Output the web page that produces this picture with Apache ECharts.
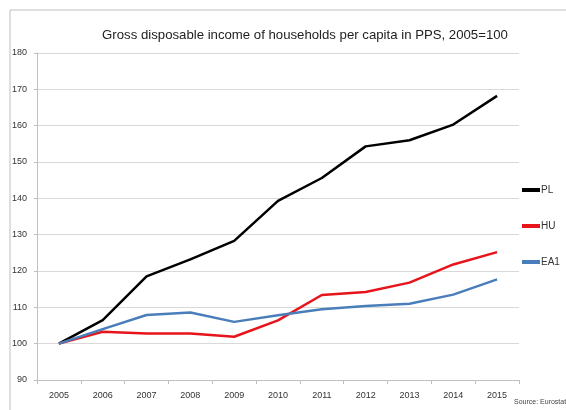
<!DOCTYPE html>
<html>
<head>
<meta charset="utf-8">
<script src="https://cdn.jsdelivr.net/npm/echarts@6/dist/echarts.min.js"></script>
<style>
html, body { margin: 0; padding: 0; background: #fff; }
#chart { width: 566px; height: 410px; }
</style>
</head>
<body>
<div id="chart"></div>
<script>
// data
const years = ['2005', '2006', '2007', '2008', '2009', '2010', '2011', '2012', '2013', '2014', '2015'];
const seriesNames = ['PL', 'HU', 'EA1'];
const plValues = [100, 106.5, 118.5, 123.2, 128.3, 139.3, 145.6, 154.3, 156.0, 160.3, 168.2];
const huValues = [100, 103.3, 102.8, 102.8, 101.9, 106.4, 113.4, 114.2, 116.8, 121.8, 125.2];
const eaValues = [100, 104.0, 107.9, 108.6, 106.0, 107.8, 109.5, 110.4, 111.0, 113.5, 117.7];

const font = 'Liberation Sans';

const chart = echarts.init(document.getElementById('chart'));

const option = {
    backgroundColor: '#fff',
    animation: false,
    title: {
        text: 'Gross disposable income of households per capita in PPS, 2005=100',
        left: 300,
        textAlign: 'center',
        top: 24,
        textStyle: { fontFamily: font, fontSize: 13.2, fontWeight: 'normal', color: '#222' }
    },
    graphic: [
        {
            type: 'polyline',
            shape: { points: [[10, 410], [10, 10], [566, 10]] },
            style: { stroke: '#bfbfbf', lineWidth: 1, fill: null }
        },
        {
            type: 'text',
            left: 514,
            top: 399,
            style: { text: 'Source: Eurostat', fontFamily: font, fontSize: 7, fill: '#444' }
        }
    ],
    legend: {
        orient: 'vertical',
        left: 517,
        top: 180,
        itemGap: 26,
        itemWidth: 18,
        itemHeight: 4,
        icon: 'rect',
        textStyle: { fontFamily: font, fontSize: 10, color: '#333', padding: [0, 0, 0, -4] },
        data: seriesNames
    },
    grid: { left: 37, right: 47, top: 53, bottom: 30 },
    xAxis: {
        type: 'category',
        data: years,
        boundaryGap: true,
        axisLine: { lineStyle: { color: '#bfbfbf' } },
        axisTick: { show: true, length: 4, lineStyle: { color: '#bfbfbf' } },
        axisLabel: { fontFamily: font, fontSize: 9, color: '#333', margin: 11 }
    },
    yAxis: {
        type: 'value',
        min: 90,
        max: 180,
        interval: 10,
        axisLine: { show: true, lineStyle: { color: '#bfbfbf' } },
        axisTick: { show: true, length: 3, lineStyle: { color: '#bfbfbf' } },
        axisLabel: { fontFamily: font, fontSize: 9, color: '#333', margin: 10 },
        splitLine: { lineStyle: { color: '#d9d9d9', width: 1 } }
    },
    series: [
        {
            name: seriesNames[0],
            type: 'line',
            data: plValues,
            symbol: 'none',
            lineStyle: { color: '#000', width: 2.5 },
            itemStyle: { color: '#000' }
        },
        {
            name: seriesNames[1],
            type: 'line',
            data: huValues,
            symbol: 'none',
            lineStyle: { color: '#e8141c', width: 2.5 },
            itemStyle: { color: '#e8141c' }
        },
        {
            name: seriesNames[2],
            type: 'line',
            data: eaValues,
            symbol: 'none',
            lineStyle: { color: '#4a7ebb', width: 2.5 },
            itemStyle: { color: '#4a7ebb' }
        }
    ]
};

chart.setOption(option);
</script>
</body>
</html>
